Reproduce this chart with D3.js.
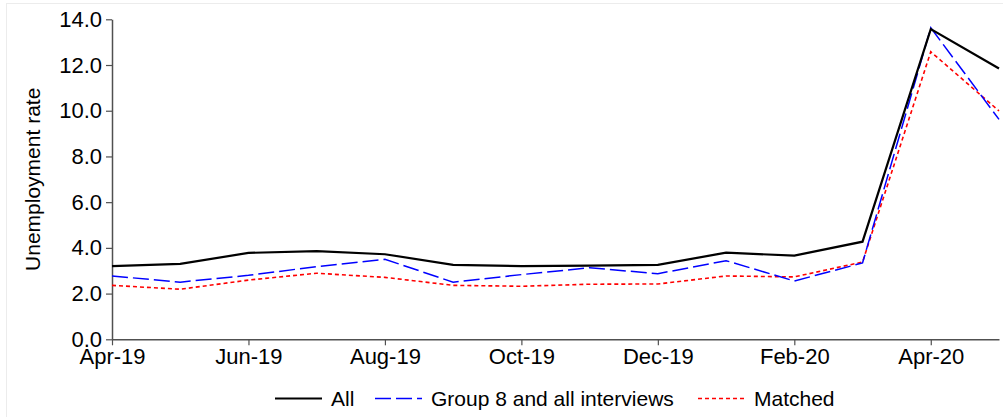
<!DOCTYPE html>
<html>
<head>
<meta charset="utf-8">
<script src="https://cdn.jsdelivr.net/npm/d3@7"></script>
<style>
  body { margin: 0; background: #fff; }
  text { font-family: "Liberation Sans", Arial, sans-serif; fill: #000; }
</style>
</head>
<body>
<div id="chart"></div>
<script>
// Data
var months = ["Apr-19","May-19","Jun-19","Jul-19","Aug-19","Sep-19","Oct-19","Nov-19","Dec-19","Jan-20","Feb-20","Mar-20","Apr-20","May-20"];
var allRate =     [3.20, 3.30, 3.78, 3.86, 3.72, 3.26, 3.20, 3.22, 3.26, 3.79, 3.66, 4.27, 13.57, 11.85];
var group8Rate =  [2.77, 2.50, 2.80, 3.18, 3.50, 2.50, 2.83, 3.13, 2.87, 3.44, 2.55, 3.34, 13.63, 9.62];
var matchedRate = [2.36, 2.19, 2.59, 2.89, 2.71, 2.36, 2.32, 2.41, 2.42, 2.77, 2.73, 3.38, 12.58, 9.99];
var xTickLabels = ["Apr-19","Jun-19","Aug-19","Oct-19","Dec-19","Feb-20","Apr-20"];
var yTicks = [0, 2, 4, 6, 8, 10, 12, 14];
var seriesNames = ["All", "Group 8 and all interviews", "Matched"];

var width = 1003, height = 417,
    margin = { left: 112, top: 19.3, right: 4, bottom: 77.7 };

var svg = d3.select("#chart").append("svg")
    .attr("width", width)
    .attr("height", height);

// faint frame
svg.append("rect")
    .attr("x", 6.5).attr("y", 3.5)
    .attr("width", 1010).attr("height", 430)
    .attr("fill", "none")
    .attr("stroke", "#ececec");

var x = d3.scalePoint()
    .domain(months)
    .range([margin.left, width - margin.right]);

var y = d3.scaleLinear()
    .domain([0, 14])
    .range([height - margin.bottom, margin.top]);

// Axes
var xAxis = svg.append("g")
    .attr("transform", "translate(0," + y(0) + ")")
    .call(d3.axisBottom(x).tickValues(xTickLabels).tickSize(6).tickSizeOuter(0).tickPadding(3));

var yAxis = svg.append("g")
    .attr("transform", "translate(" + margin.left + ",0)")
    .call(d3.axisLeft(y).tickValues(yTicks).tickSize(6).tickSizeOuter(0).tickPadding(4)
        .tickFormat(d3.format(".1f")));

[xAxis, yAxis].forEach(function(a) {
    a.selectAll("path.domain").attr("stroke", "#505050").attr("stroke-width", 1.5);
    a.selectAll(".tick line").attr("stroke", "#505050").attr("stroke-width", 1.2);
    a.selectAll(".tick text")
        .style("font-family", "'Liberation Sans', Arial, sans-serif")
        .style("font-size", "22px")
        .attr("fill", "#000");
});

// Y axis title
svg.append("text")
    .attr("transform", "translate(40," + ((y(0) + y(14)) / 2) + ") rotate(-90)")
    .attr("text-anchor", "middle")
    .style("font-size", "21px")
    .text("Unemployment rate");

// Lines
var styles = [
    { color: "#000000", width: 2.2, dash: null },
    { color: "#0000ff", width: 1.5, dash: "16,5" },
    { color: "#ff0000", width: 1.6, dash: "4,3" }
];
var seriesData = [allRate, group8Rate, matchedRate];

var line = d3.line()
    .x(function(d, i) { return x(months[i]); })
    .y(function(d) { return y(d); });

// draw in reverse so black is on top
[2, 1, 0].forEach(function(k) {
    svg.append("path")
        .datum(seriesData[k])
        .attr("fill", "none")
        .attr("stroke", styles[k].color)
        .attr("stroke-width", styles[k].width)
        .attr("stroke-dasharray", styles[k].dash)
        .attr("d", line);
});

// Legend
var legendX = [275, 375, 698],
    legendY = 398.5;
var legend = svg.append("g");
seriesNames.forEach(function(name, k) {
    legend.append("line")
        .attr("x1", legendX[k]).attr("x2", legendX[k] + 47)
        .attr("y1", legendY).attr("y2", legendY)
        .attr("stroke", styles[k].color)
        .attr("stroke-width", styles[k].width)
        .attr("stroke-dasharray", styles[k].dash);
    legend.append("text")
        .attr("x", legendX[k] + 56)
        .attr("y", legendY)
        .attr("dy", "0.36em")
        .style("font-size", "21px")
        .text(name);
});
</script>
</body>
</html>
